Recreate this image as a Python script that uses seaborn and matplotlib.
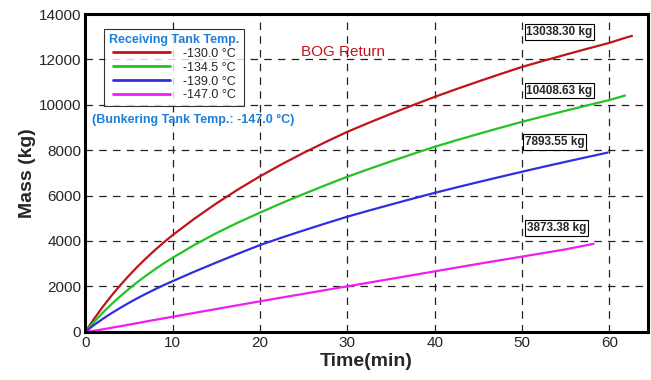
import numpy as np
import matplotlib
matplotlib.use('Agg')
import matplotlib.pyplot as plt
from matplotlib.ticker import MultipleLocator
import pandas as pd
import seaborn as sns

# 読み取ったデータ (Time[min], Mass[kg])
t_130 = [0, 1, 2, 3, 4, 5, 6, 7, 8, 9, 10, 12.5, 15, 17.5, 20, 22.5, 25, 27.5, 30,
         32.5, 35, 37.5, 40, 42.5, 45, 47.5, 50, 52.5, 55, 57.5, 60, 61.8, 62.6]
m_130 = [0, 573, 1103, 1594, 2051, 2479, 2879, 3255, 3610, 3945, 4261, 4985, 5655,
         6275, 6850, 7385, 7885, 8358, 8810, 9215, 9605, 9983, 10350, 10695, 11028,
         11353, 11670, 11945, 12212, 12474, 12730, 12950, 13038.30]

t_1345 = [0, 1, 2, 3, 4, 5, 6, 7, 8, 9, 10, 12.5, 15, 17.5, 20, 22.5, 25, 27.5, 30,
          32.5, 35, 37.5, 40, 42.5, 45, 47.5, 50, 52.5, 55, 57.5, 60, 61.8]
m_1345 = [0, 438, 842, 1216, 1565, 1892, 2199, 2488, 2761, 3019, 3260, 3830, 4345,
          4815, 5250, 5670, 6070, 6457, 6830, 7175, 7509, 7834, 8150, 8438, 8716,
          8986, 9250, 9498, 9740, 9977, 10210, 10408.63]

t_139 = [0, 1, 2, 3, 4, 5, 6, 7, 8, 9, 10, 12.5, 15, 17.5, 20, 22.5, 25, 27.5, 30,
         32.5, 35, 37.5, 40, 42.5, 45, 47.5, 50, 52.5, 55, 57.5, 59.8]
m_139 = [0, 300, 568, 818, 1053, 1275, 1485, 1685, 1875, 2057, 2230, 2650, 3050,
         3440, 3820, 4150, 4465, 4772, 5070, 5342, 5606, 5866, 6120, 6360, 6594,
         6824, 7050, 7272, 7488, 7700, 7893.55]

t_147 = [0, 1, 2.5, 5, 7.5, 10, 12.5, 15, 17.5, 20, 25, 30, 35, 40, 45, 50, 55, 58.2]
m_147 = [0, 40, 140, 310, 490, 660, 830, 1000, 1170, 1340, 1670, 2000, 2330, 2660,
         2990, 3310, 3630, 3873.38]

labels = ['-130.0 °C', '-134.5 °C', '-139.0 °C', '-147.0 °C']
colors = ['#c0141a', '#22c322', '#2f2fe0', '#f01ef0']
final_text = ['13038.30 kg', '10408.63 kg', '7893.55 kg', '3873.38 kg']
final_pos = [(50.5, 13200), (50.5, 10630), (50.3, 8360), (50.6, 4570)]

frames = []
for lab, t, m in zip(labels, [t_130, t_1345, t_139, t_147], [m_130, m_1345, m_139, m_147]):
    frames.append(pd.DataFrame({'Time': t, 'Mass': m, 'Receiving': lab}))
df = pd.concat(frames, ignore_index=True)

sns.set_style('white')
plt.rcParams['font.family'] = ['Liberation Sans', 'DejaVu Sans']

fig = plt.figure(figsize=(6.51, 3.8), dpi=100)
ax = fig.add_axes([0.1312, 0.1271, 0.8638, 0.8359])

sns.lineplot(data=df, x='Time', y='Mass', hue='Receiving', hue_order=labels,
             palette=colors, linewidth=1.6, errorbar=None, sort=True, ax=ax)

ax.set_xlim(0, 64.4)
ax.set_ylim(0, 14000)
ax.xaxis.set_major_locator(MultipleLocator(10))
ax.xaxis.set_minor_locator(MultipleLocator(2))
ax.yaxis.set_major_locator(MultipleLocator(2000))
ax.yaxis.set_minor_locator(MultipleLocator(400))
ax.tick_params(which='major', direction='in', length=7, width=1.5, labelsize=11, pad=3)
ax.tick_params(which='minor', direction='in', length=4, width=1)
for sp in ax.spines.values():
    sp.set_linewidth(2.2)
    sp.set_color('black')

ax.grid(True, which='major', color='#222222', linestyle=(0, (6, 5)), linewidth=0.9)

ax.set_xlabel('Time(min)', fontsize=14, fontweight='bold', labelpad=2)
ax.set_ylabel('Mass (kg)', fontsize=14, fontweight='bold', labelpad=2)

leg = ax.legend(title='Receiving Tank Temp.', loc='upper left', bbox_to_anchor=(0.033, 0.953),
                borderaxespad=0, fontsize=9, title_fontsize=9, frameon=True, fancybox=False,
                edgecolor='black', handlelength=4.6, handletextpad=1.0, labelspacing=0.15,
                borderpad=0.4)
leg.get_frame().set_linewidth(0.8)
leg.get_title().set_color('#1e7fd8')
leg.get_title().set_fontweight('bold')
for line in leg.get_lines():
    line.set_linewidth(2)

ax.text(0.012, 0.666, '(Bunkering Tank Temp.: -147.0 °C)', transform=ax.transAxes,
        fontsize=9, fontweight='bold', color='#1e7fd8', va='center', ha='left')
ax.text(0.458, 0.88, 'BOG Return', transform=ax.transAxes, fontsize=11,
        color='#c0141a', va='center', ha='center')

for txt, (x, y) in zip(final_text, final_pos):
    ax.text(x, y, txt, fontsize=8.5, fontweight='bold', ha='left', va='center',
            bbox=dict(boxstyle='square,pad=0.15', facecolor='white', edgecolor='black', linewidth=0.8))

fig.savefig('out.png', dpi=100)
